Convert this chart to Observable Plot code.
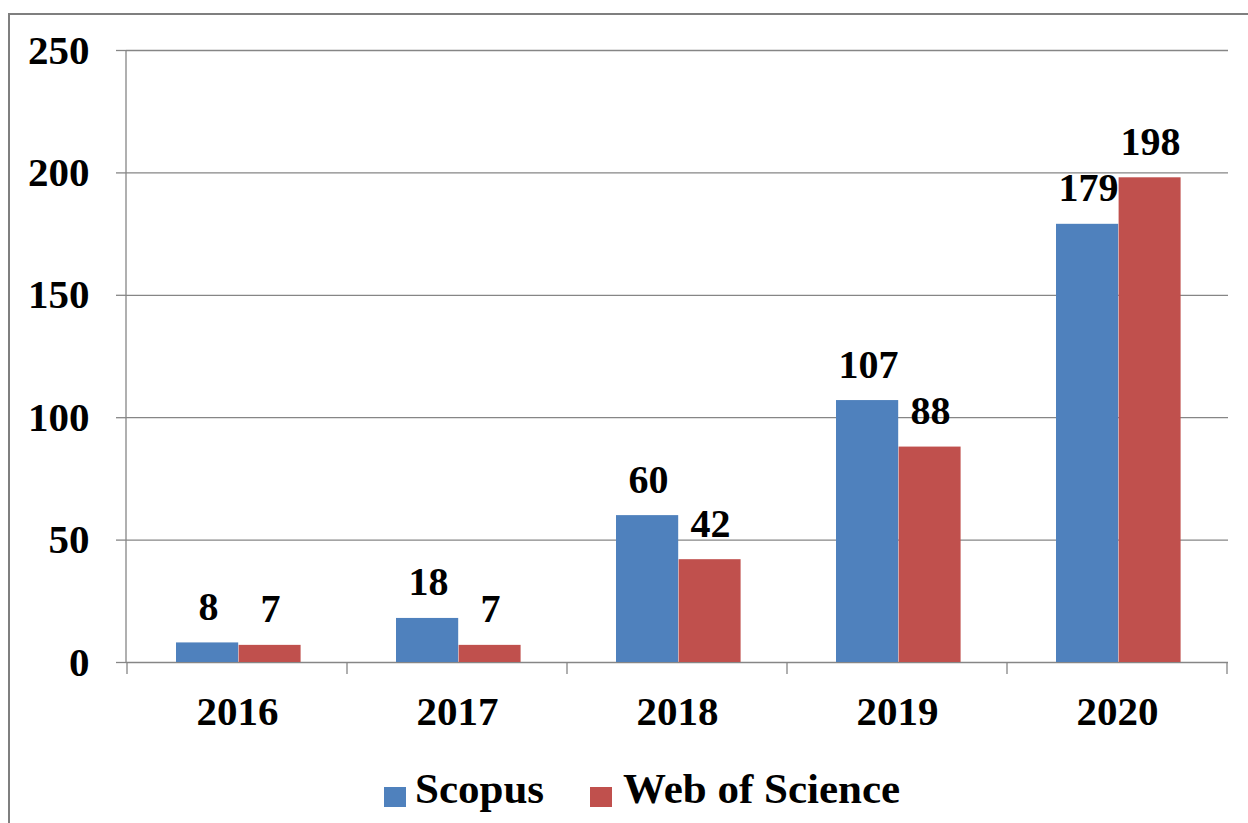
<!DOCTYPE html>
<html>
<head>
<meta charset="utf-8">
<script src="https://cdn.jsdelivr.net/npm/d3@7"></script>
<script src="https://cdn.jsdelivr.net/npm/@observablehq/plot@0.6"></script>
<style>
  html, body { margin: 0; padding: 0; background: #fff; }
  #wrap { position: relative; width: 1248px; height: 823px; overflow: hidden; background: #fff; }
  #border { position: absolute; left: 8px; top: 13px; width: 1300px; height: 900px; border: 2px solid #7f7f7f; box-sizing: border-box; }
  #chart { position: absolute; left: 0; top: 0; }
  #legend { position: absolute; left: 384px; top: 767px; font-family: "Liberation Serif", "Times New Roman", serif; font-weight: bold; font-size: 43px; line-height: 43px; color: #000; white-space: nowrap; }
  .item { display: inline-block; }
  .sw { display: inline-block; width: 22px; height: 20px; position: relative; top: 4px; }
</style>
</head>
<body>
<div id="wrap">
  <div id="border"></div>
  <div id="chart"></div>
  <div id="legend"></div>
</div>
<script>
const years = ["2016", "2017", "2018", "2019", "2020"];
const scopus = [8, 18, 60, 107, 179];
const wos = [7, 7, 42, 88, 198];
const seriesNames = ["Scopus", "Web of Science"];
const seriesColors = ["#4F81BD", "#C0504D"];
const yTicks = [0, 50, 100, 150, 200, 250];

const axisColor = "#868686";
const scopusData = years.map((yr, i) => ({year: yr, value: scopus[i]}));
const wosData = years.map((yr, i) => ({year: yr, value: wos[i]}));

const boundaryTicks = (index, scales, values, dims) => {
  const x = scales.x, y = scales.y;
  const dom = x.domain();
  const step = x(dom[1]) - x(dom[0]);
  const g = d3.create("svg:g").attr("stroke", axisColor).attr("stroke-width", 1.3);
  const y0 = y(0);
  const xs = dom.map(d => x(d)).concat([x(dom[dom.length - 1]) + step]);
  for (const xv of xs) {
    g.append("line").attr("x1", xv).attr("x2", xv).attr("y1", y0).attr("y2", y0 + 12);
  }
  g.append("line").attr("x1", dims.marginLeft).attr("x2", dims.marginLeft)
    .attr("y1", y(yTicks[yTicks.length - 1])).attr("y2", y0);
  return g.node();
};

const chart = Plot.plot({
  width: 1248,
  height: 750,
  marginLeft: 126,
  marginRight: 20,
  marginTop: 50,
  marginBottom: 88,
  style: {fontFamily: "'Liberation Serif', 'Times New Roman', serif", fontSize: "41px", fontWeight: "bold", color: "#000", background: "transparent"},
  x: {domain: years, padding: 0},
  y: {domain: [0, 250]},
  marks: [
    Plot.gridY(yTicks, {stroke: axisColor, strokeOpacity: 1, strokeWidth: 1.3}),
    Plot.barY(scopusData, {x: "year", y: "value", fill: seriesColors[0], insetLeft: 49, insetRight: 108.8}),
    Plot.barY(wosData, {x: "year", y: "value", fill: seriesColors[1], insetLeft: 111.6, insetRight: 46.4}),
    Plot.text(scopusData, {x: "year", y: "value", text: d => String(d.value), dx: -29, dy: -23, lineAnchor: "bottom", fill: "#000", fontSize: 40}),
    Plot.text(wosData, {x: "year", y: "value", text: d => String(d.value), dx: 33, dy: -23, lineAnchor: "bottom", fill: "#000", fontSize: 40}),
    Plot.axisY(yTicks, {tickSize: 10, tickPadding: 27, stroke: axisColor, strokeWidth: 1.3, fill: "#000", label: null}),
    Plot.axisX({tickSize: 0, tickPadding: 33, fill: "#000", label: null}),
    boundaryTicks
  ]
});
document.getElementById("chart").appendChild(chart);

const legend = document.getElementById("legend");
seriesNames.forEach((name, i) => {
  const item = document.createElement("span");
  item.className = "item";
  item.style.marginRight = i === 0 ? "46px" : "0";
  const sw = document.createElement("span");
  sw.className = "sw";
  sw.style.background = seriesColors[i];
  sw.style.marginRight = i === 0 ? "9px" : "11px";
  item.appendChild(sw);
  item.appendChild(document.createTextNode(name));
  legend.appendChild(item);
});
</script>
</body>
</html>
